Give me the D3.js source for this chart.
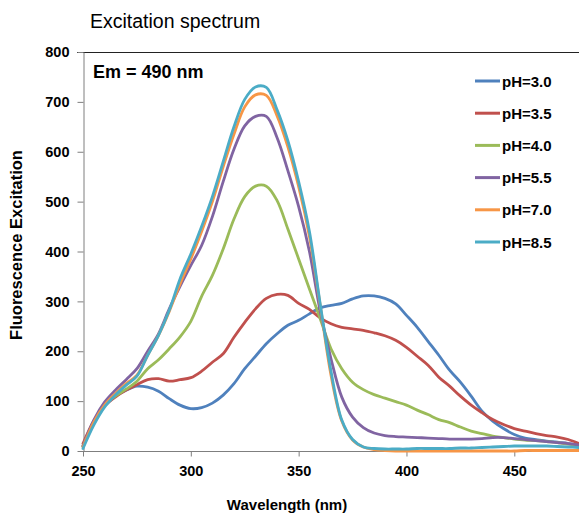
<!DOCTYPE html>
<html>
<head>
<meta charset="utf-8">
<script src="https://cdn.jsdelivr.net/npm/d3@7/dist/d3.min.js"></script>
<style>
  html, body { margin: 0; padding: 0; background: #fff; }
  svg { display: block; font-family: "Liberation Sans", Arial, sans-serif; }
</style>
</head>
<body>
<svg id="chart" width="579" height="513"></svg>
<script>
// Excitation wavelengths (nm), 5 nm steps
const wavelengths = d3.range(250, 481, 5);

// Fluorescence excitation intensity at each wavelength, per pH
const pH30 = [10, 58, 92, 110, 122, 130, 128, 120, 105, 92, 85, 87, 96, 112, 135, 165, 190, 215, 235, 252,
  262, 275, 287, 292, 296, 305, 311, 311, 306, 295, 272, 248, 220, 192, 162, 138, 110, 80, 60, 45,
  33, 26, 23, 20, 18, 15, 12];
const pH35 = [15, 60, 90, 108, 122, 133, 143, 145, 140, 143, 147, 160, 178, 195, 228, 258, 285, 306, 314, 312,
  296, 284, 267, 255, 248, 245, 242, 237, 231, 222, 208, 190, 172, 148, 130, 110, 92, 77, 63, 53,
  45, 40, 35, 31, 28, 23, 15];
const pH40 = [10, 58, 92, 110, 124, 140, 165, 183, 205, 229, 260, 310, 352, 405, 465, 510, 531, 531, 502, 445,
  385, 325, 265, 205, 165, 138, 123, 113, 106, 99, 92, 82, 73, 63, 57, 48, 40, 35, 30, 27,
  24, 22, 21, 19, 17, 14, 10];
const pH55 = [10, 62, 98, 122, 143, 165, 200, 235, 285, 330, 372, 412, 470, 540, 605, 652, 671, 671, 628, 562,
  490, 400, 280, 185, 108, 68, 47, 36, 31, 29, 28, 27, 26, 25, 24, 24, 24, 25, 27, 27,
  25, 23, 21, 19, 17, 15, 12];
const pH70 = [8, 58, 92, 115, 135, 152, 192, 232, 280, 335, 385, 440, 500, 570, 635, 690, 714, 713, 672, 610,
  530, 430, 292, 152, 60, 22, 8, 3, 1, 0, 0, 0, 0, 0, 0, 0, 0, 0, 0, 0,
  0, 1, 1, 1, 1, 1, 1];
const pH85 = [5, 52, 88, 112, 132, 150, 192, 232, 282, 345, 395, 450, 510, 580, 650, 705, 730, 729, 684, 622,
  540, 440, 295, 160, 62, 23, 8, 5, 4, 4, 4, 5, 5, 5, 5, 6, 6, 7, 8, 9,
  10, 10, 10, 10, 9, 8, 7];

const seriesNames = ["pH=3.0", "pH=3.5", "pH=4.0", "pH=5.5", "pH=7.0", "pH=8.5"];
const seriesValues = [pH30, pH35, pH40, pH55, pH70, pH85];
const seriesColors = ["#4F81BD", "#C0504D", "#9BBB59", "#8064A2", "#F79646", "#4BACC6"];

const xTicks = [250, 300, 350, 400, 450];
const yTicks = [0, 100, 200, 300, 400, 500, 600, 700, 800];

const svg = d3.select("#chart");

const x = d3.scaleLinear().domain([250, 480]).range([83, 579]);
const y = d3.scaleLinear().domain([0, 800]).range([451, 52]);

// Title
svg.append("text")
  .attr("x", 90).attr("y", 28)
  .attr("font-size", 19.5)
  .attr("fill", "#000")
  .text("Excitation spectrum");

// Top frame line of the plot area
svg.append("line")
  .attr("x1", 77).attr("x2", 579)
  .attr("y1", y(800) + 0.5).attr("y2", y(800) + 0.5)
  .attr("stroke", "#222").attr("stroke-width", 1);

// Axes
const xAxis = d3.axisBottom(x).tickValues(xTicks).tickSize(5).tickSizeOuter(0).tickPadding(9);
const yAxis = d3.axisLeft(y).tickValues(yTicks).tickSize(6).tickSizeOuter(0).tickPadding(8);

const gx = svg.append("g").attr("transform", `translate(0,${y(0) + 0.5})`).call(xAxis);
const gy = svg.append("g").attr("transform", `translate(${x(250) + 0.5},0)`).call(yAxis);

[gx, gy].forEach(g => {
  g.select(".domain").attr("stroke", "#7f7f7f").attr("stroke-width", 1);
  g.selectAll(".tick line").attr("stroke", "#7f7f7f");
  g.selectAll(".tick text")
    .attr("font-family", "Liberation Sans, Arial, sans-serif")
    .attr("font-size", 14.5)
    .attr("font-weight", "bold")
    .attr("fill", "#000");
});
gx.select(".domain").attr("d", `M${x(250)},0H579`);

// Axis titles
svg.append("text")
  .attr("x", 287).attr("y", 510)
  .attr("text-anchor", "middle")
  .attr("font-size", 15).attr("font-weight", "bold")
  .text("Wavelength (nm)");

svg.append("text")
  .attr("transform", "translate(22,245) rotate(-90)")
  .attr("text-anchor", "middle")
  .attr("font-size", 16.5).attr("font-weight", "bold")
  .text("Fluorescence Excitation");

// Emission wavelength annotation
svg.append("text")
  .attr("x", 93).attr("y", 78)
  .attr("font-size", 18).attr("font-weight", "bold")
  .text("Em = 490 nm");

// Spectra
const line = d3.line()
  .x((d, i) => x(wavelengths[i]))
  .y(d => y(d))
  .curve(d3.curveCatmullRom.alpha(0.5));

svg.append("g").selectAll("path")
  .data(seriesValues)
  .join("path")
  .attr("d", d => line(d))
  .attr("fill", "none")
  .attr("stroke", (d, i) => seriesColors[i])
  .attr("stroke-width", 2.8)
  .attr("stroke-linejoin", "round")
  .attr("stroke-linecap", "round");

// Legend
const legend = svg.append("g");
seriesNames.forEach((name, i) => {
  const cy = 81 + i * 32.2;
  legend.append("line")
    .attr("x1", 475).attr("x2", 500)
    .attr("y1", cy).attr("y2", cy)
    .attr("stroke", seriesColors[i]).attr("stroke-width", 3);
  legend.append("text")
    .attr("x", 502).attr("y", cy + 5.5)
    .attr("font-size", 15).attr("font-weight", "bold")
    .text(name);
});
</script>
</body>
</html>
